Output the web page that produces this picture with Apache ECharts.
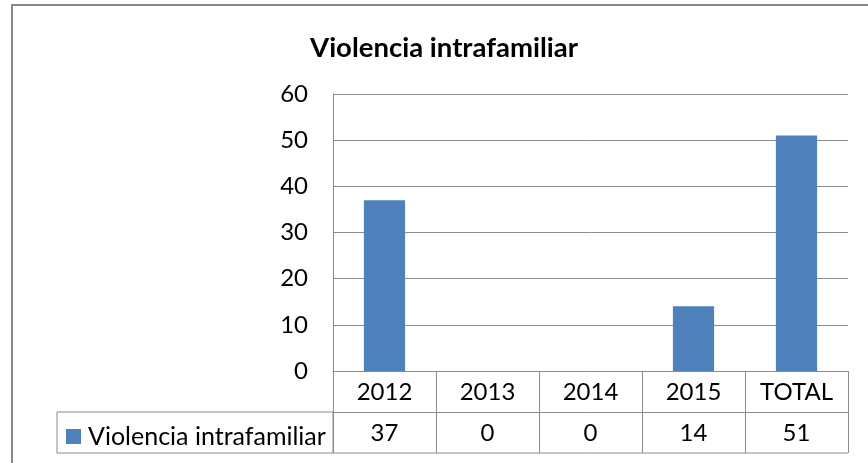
<!DOCTYPE html>
<html><head><meta charset="utf-8">
<script src="https://cdn.jsdelivr.net/npm/echarts@6/dist/echarts.min.js"></script>
<style>html,body{margin:0;padding:0;background:#fff}#c{width:868px;height:463px}</style>
</head><body><div id="c"></div>
<script>
const categories = ['2012', '2013', '2014', '2015', 'TOTAL'];
const seriesName = 'Violencia intrafamiliar';
const values = [37, 0, 0, 14, 51];
const yTicks = { min: 0, max: 60, interval: 10 };

const FONT = 'Lato, "Noto Sans", sans-serif';
const GL = 333, GR = 848, GT = 94, GB = 371, ROW = 41;
const chart = echarts.init(document.getElementById('c'));
const lineColor = '#8c8c8c';
chart.setOption({
  animation: false,
  title: { text: 'Violencia intrafamiliar', left: 439, top: 29, textAlign: 'center',
    textStyle: { fontFamily: FONT, fontWeight: 'bold', fontSize: 27.5, color: '#000' } },
  legend: { left: 66, top: GB + ROW + 12, padding: 0, itemWidth: 15, itemHeight: 15, itemGap: 0,
    icon: 'rect', selectedMode: false,
    textStyle: { fontFamily: FONT, fontSize: 25, color: '#000', padding: [0, 0, 0, 2] } },
  grid: { left: GL, right: 868 - GR, top: GT, bottom: 463 - GB },
  xAxis: [{
    type: 'category', data: categories, position: 'bottom',
    axisLine: { lineStyle: { color: lineColor, width: 1 } },
    axisTick: { show: true, length: ROW * 2, lineStyle: { color: lineColor } },
    axisLabel: { margin: 9, fontFamily: FONT, fontSize: 24, color: '#000' }
  }, {
    type: 'category', data: values.map(String), position: 'bottom', offset: ROW,
    axisLine: { lineStyle: { color: lineColor, width: 1 } },
    axisTick: { show: false },
    axisLabel: { margin: 9, fontFamily: FONT, fontSize: 24, color: '#000' }
  }],
  yAxis: {
    type: 'value', min: yTicks.min, max: yTicks.max, interval: yTicks.interval,
    axisLine: { show: true, lineStyle: { color: lineColor } },
    axisTick: { show: false },
    splitLine: { lineStyle: { color: lineColor, width: 1 } },
    axisLabel: { margin: 25, fontFamily: FONT, fontSize: 24, color: '#000' }
  },
  series: [{
    name: seriesName, type: 'bar', data: values, barWidth: '40%',
    itemStyle: { color: '#4F81BD' }
  }],
  graphic: [
    { type: 'rect', shape: { x: 12, y: 5, width: 1000, height: 1000 },
      style: { fill: 'none', stroke: '#888', lineWidth: 2 }, silent: true, z: -1 },
    { type: 'rect', shape: { x: 57, y: GB + ROW, width: GL - 57, height: ROW },
      style: { fill: 'none', stroke: lineColor, lineWidth: 1 }, silent: true },
    { type: 'line', shape: { x1: GL, y1: GB + 2 * ROW, x2: GR, y2: GB + 2 * ROW },
      style: { stroke: lineColor, lineWidth: 1 }, silent: true }
  ]
});
</script></body></html>
